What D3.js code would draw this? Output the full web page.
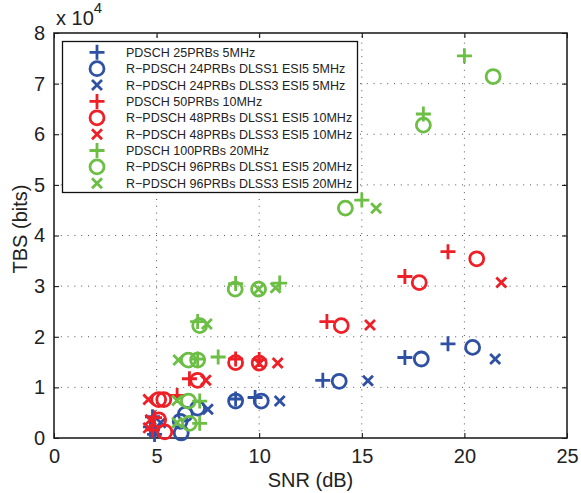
<!DOCTYPE html>
<html>
<head>
<meta charset="utf-8">
<script src="https://cdn.jsdelivr.net/npm/d3@7"></script>
<style>
  body { margin: 0; background: #fff; }
  svg { font-family: "Liberation Sans", Arial, Helvetica, sans-serif; }
</style>
</head>
<body>
<svg id="chart"></svg>
<script>
const width = 581
const height = 493

// SNR (dB) and TBS (bits), one pair of arrays per series
const snrPdsch25 = [19.2, 17.1, 13.1, 9.8, 8.85, 4.8, 4.7, 4.9];
const tbsPdsch25 = [18600, 15900, 11400, 8000, 7700, 4200, 2200, 700];
const snrR24Dlss1 = [20.4, 17.9, 13.9, 10.1, 8.85, 7.0, 6.4, 6.15, 6.2];
const tbsR24Dlss1 = [17900, 15600, 11200, 7300, 7300, 5900, 4700, 3300, 1000];
const snrR24Dlss3 = [21.5, 15.3, 11.0, 7.5, 5.2, 4.9];
const tbsR24Dlss3 = [15600, 11300, 7300, 5700, 3000, 1200];

const snrPdsch50 = [19.2, 17.1, 13.3, 10.0, 8.85, 6.6, 6.0, 4.9, 4.8];
const tbsPdsch50 = [36800, 31900, 23000, 15500, 15600, 11700, 8400, 4000, 1600];
const snrR48Dlss1 = [20.6, 17.8, 14.0, 10.0, 8.85, 7.0, 5.1, 5.35, 5.1, 5.4];
const tbsR48Dlss1 = [35400, 30700, 22200, 14800, 14900, 11400, 7600, 7600, 3600, 1200];
const snrR48Dlss3 = [21.8, 15.4, 10.9, 10.0, 7.4, 4.6, 4.7, 4.6];
const tbsR48Dlss3 = [30700, 22300, 14800, 14700, 11400, 7600, 3600, 2000];

const snrPdsch100 = [20.0, 18.0, 15.0, 11.0, 8.85, 7.0, 8.0, 7.0, 7.1, 7.1];
const tbsPdsch100 = [75500, 64000, 47000, 30600, 30500, 23000, 16000, 15600, 7300, 2900];
const snrR96Dlss1 = [21.4, 18.0, 14.2, 9.97, 8.83, 7.1, 6.55, 7.0, 6.55, 6.6];
const tbsR96Dlss1 = [71400, 61800, 45400, 29400, 29400, 22200, 15400, 15400, 7300, 2900];
const snrR96Dlss3 = [15.7, 10.8, 9.97, 7.45, 6.06, 6.0, 6.0];
const tbsR96Dlss3 = [45400, 29700, 29400, 22500, 15400, 7400, 3000];

const legendNames = [
  "PDSCH 25PRBs 5MHz",
  "R\u2212PDSCH 24PRBs DLSS1 ESI5 5MHz",
  "R\u2212PDSCH 24PRBs DLSS3 ESI5 5MHz",
  "PDSCH 50PRBs 10MHz",
  "R\u2212PDSCH 48PRBs DLSS1 ESI5 10MHz",
  "R\u2212PDSCH 48PRBs DLSS3 ESI5 10MHz",
  "PDSCH 100PRBs 20MHz",
  "R\u2212PDSCH 96PRBs DLSS1 ESI5 20MHz",
  "R\u2212PDSCH 96PRBs DLSS3 ESI5 20MHz"
];
const xTicks = [0, 5, 10, 15, 20, 25];
const yTicks = [0, 10000, 20000, 30000, 40000, 50000, 60000, 70000, 80000];

const blue = "#2f51a3", red = "#ee1f26", green = "#6cbe45";

const series = [
  {x: snrPdsch25, y: tbsPdsch25, color: blue, marker: "plus"},
  {x: snrR24Dlss1, y: tbsR24Dlss1, color: blue, marker: "circle"},
  {x: snrR24Dlss3, y: tbsR24Dlss3, color: blue, marker: "cross"},
  {x: snrPdsch50, y: tbsPdsch50, color: red, marker: "plus"},
  {x: snrR48Dlss1, y: tbsR48Dlss1, color: red, marker: "circle"},
  {x: snrR48Dlss3, y: tbsR48Dlss3, color: red, marker: "cross"},
  {x: snrPdsch100, y: tbsPdsch100, color: green, marker: "plus"},
  {x: snrR96Dlss1, y: tbsR96Dlss1, color: green, marker: "circle"},
  {x: snrR96Dlss3, y: tbsR96Dlss3, color: green, marker: "cross"}
].map((s, i) => ({...s, name: legendNames[i]}));

const x = d3.scaleLinear().domain([0, 25]).range([54, 567]);
const y = d3.scaleLinear().domain([0, 80000]).range([438, 33]);

const svg = d3.select("#chart")
    .attr("width", width)
    .attr("height", height);

svg.append("rect").attr("width", width).attr("height", height).attr("fill", "#fff");

// dotted grid
const grid = svg.append("g")
    .attr("stroke", "#555")
    .attr("stroke-width", 1)
    .attr("stroke-dasharray", "1,5.8");
grid.selectAll("line.gx")
  .data(xTicks.slice(1, -1))
  .join("line")
    .attr("x1", d => x(d)).attr("x2", d => x(d))
    .attr("y1", y(0)).attr("y2", y(80000));
grid.selectAll("line.gy")
  .data(yTicks.slice(1, -1))
  .join("line")
    .attr("class", "gy")
    .attr("y1", d => y(d)).attr("y2", d => y(d))
    .attr("x1", x(0)).attr("x2", x(25));

// axes, ticks inward like matlab
const tickFont = g => g.selectAll("text")
    .attr("font-size", 20)
    .attr("fill", "#222")
    .attr("font-family", "Liberation Sans, Arial, sans-serif");

svg.append("g")
    .attr("transform", `translate(0,${y(0)})`)
    .call(d3.axisBottom(x).tickValues(xTicks).tickSize(-5).tickPadding(11))
    .call(g => g.select(".domain").remove())
    .call(tickFont);
svg.append("g")
    .attr("transform", `translate(0,${y(80000)})`)
    .call(d3.axisTop(x).tickValues(xTicks).tickSize(-5).tickFormat(""))
    .call(g => g.select(".domain").remove());
svg.append("g")
    .attr("transform", `translate(${x(0)},0)`)
    .call(d3.axisLeft(y).tickValues(yTicks).tickSize(-5).tickPadding(9).tickFormat(d => d / 10000))
    .call(g => g.select(".domain").remove())
    .call(tickFont);
svg.append("g")
    .attr("transform", `translate(${x(25)},0)`)
    .call(d3.axisRight(y).tickValues(yTicks).tickSize(-5).tickFormat(""))
    .call(g => g.select(".domain").remove());

svg.append("rect")
    .attr("x", x(0)).attr("y", y(80000))
    .attr("width", x(25) - x(0)).attr("height", y(0) - y(80000))
    .attr("fill", "none")
    .attr("stroke", "#222")
    .attr("stroke-width", 1.6);

// exponent label
const expo = svg.append("text")
    .attr("x", 56).attr("y", 25)
    .attr("font-size", 20)
    .attr("fill", "#222");
expo.append("tspan").text("x 10");
expo.append("tspan").attr("dy", -12).attr("font-size", 15).text("4");

svg.append("text")
    .attr("x", (x(0) + x(25)) / 2).attr("y", 487)
    .attr("text-anchor", "middle")
    .attr("font-size", 20)
    .attr("fill", "#222")
    .text("SNR (dB)");
svg.append("text")
    .attr("transform", `translate(27,${229}) rotate(-90)`)
    .attr("text-anchor", "middle")
    .attr("font-size", 20)
    .attr("fill", "#222")
    .text("TBS (bits)");

// markers
const markerPath = m => {
  if (m === "plus") return "M-7.5,0H7.5M0,-7.5V7.5";
  if (m === "cross") return "M-5,-5L5,5M-5,5L5,-5";
  return d3.arc()({innerRadius: 0, outerRadius: 7, startAngle: 0, endAngle: 2 * Math.PI}) ;
};

const marks = svg.append("g").attr("fill", "none").attr("stroke-width", 2.8);
series.forEach(s => {
  marks.append("g")
      .attr("stroke", s.color)
    .selectAll("path")
    .data(d3.zip(s.x, s.y))
    .join("path")
      .attr("transform", d => `translate(${x(d[0])},${y(d[1])})`)
      .attr("d", markerPath(s.marker));
});

// legend
const legend = svg.append("g");
legend.append("rect")
    .attr("x", 62.5).attr("y", 41.5)
    .attr("width", 295).attr("height", 151)
    .attr("fill", "#fff")
    .attr("stroke", "#111")
    .attr("stroke-width", 1.3);
const row = legend.selectAll("g.row")
  .data(series)
  .join("g")
    .attr("transform", (d, i) => `translate(0,${52.3 + i * 16.37})`);
row.append("path")
    .attr("transform", "translate(97,0)")
    .attr("d", d => markerPath(d.marker))
    .attr("fill", "none")
    .attr("stroke", d => d.color)
    .attr("stroke-width", 2.8);
row.append("text")
    .attr("x", 126).attr("y", 4.6)
    .attr("font-size", 12.5)
    .attr("fill", "#222")
    .text(d => d.name);
</script>
</body>
</html>
